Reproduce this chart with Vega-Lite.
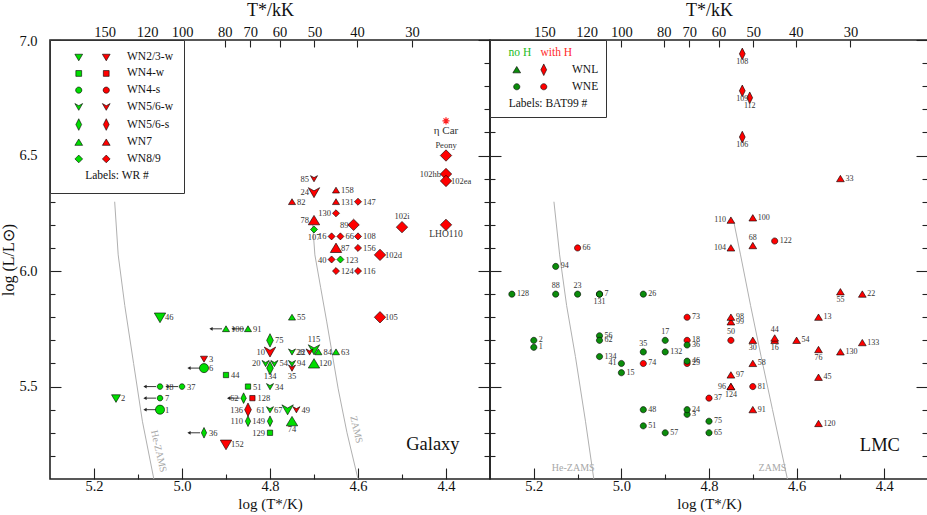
{
"$schema": "https://vega.github.io/schema/vega-lite/v6.json",
"padding": {"left": 0, "top": 0, "right": 0, "bottom": 0},
"background": "white",
"config": {
  "view": {"stroke": "#222", "strokeWidth": 1.6},
  "axis": {"domain": false, "grid": false, "tickColor": "#222", "tickWidth": 1.1, "labelFont": "Liberation Serif", "labelFontSize": 14.5, "labelColor": "#111", "titleFont": "Liberation Serif", "titleFontWeight": "normal", "titleColor": "#111", "titleFontSize": 15},
  "legend": {"labelFont": "Liberation Serif", "titleFont": "Liberation Serif"},
  "text": {"font": "Liberation Serif"}
},
"datasets": {
  "gal": [
    {"id":"η Car","logT":4.40,"logL":6.65,"H":"H","sp":"eta"},
    {"id":"Peony","logT":4.40,"logL":6.50,"H":"H","sp":"WN8/9"},
    {"id":"102hb","logT":4.40,"logL":6.42,"H":"H","sp":"WN8/9"},
    {"id":"102ea","logT":4.40,"logL":6.39,"H":"H","sp":"WN8/9"},
    {"id":"LHO110","logT":4.40,"logL":6.20,"H":"H","sp":"WN8/9"},
    {"id":"102i","logT":4.50,"logL":6.19,"H":"H","sp":"WN8/9"},
    {"id":"102d","logT":4.55,"logL":6.07,"H":"H","sp":"WN8/9"},
    {"id":"105","logT":4.55,"logL":5.80,"H":"H","sp":"WN8/9"},
    {"id":"89","logT":4.61,"logL":6.20,"H":"H","sp":"WN8/9"},
    {"id":"85","logT":4.70,"logL":6.40,"H":"H","sp":"WN5/6-w"},
    {"id":"24","logT":4.70,"logL":6.34,"H":"H","sp":"WN5/6-w"},
    {"id":"158","logT":4.65,"logL":6.35,"H":"H","sp":"WN7"},
    {"id":"82","logT":4.75,"logL":6.30,"H":"H","sp":"WN7"},
    {"id":"131","logT":4.65,"logL":6.30,"H":"H","sp":"WN7"},
    {"id":"147","logT":4.60,"logL":6.30,"H":"H","sp":"WN8/9"},
    {"id":"130","logT":4.65,"logL":6.25,"H":"H","sp":"WN8/9"},
    {"id":"78","logT":4.70,"logL":6.22,"H":"H","sp":"WN7"},
    {"id":"107","logT":4.70,"logL":6.18,"H":"noH","sp":"WN8/9"},
    {"id":"16","logT":4.66,"logL":6.15,"H":"H","sp":"WN8/9"},
    {"id":"66","logT":4.64,"logL":6.15,"H":"H","sp":"WN8/9"},
    {"id":"108","logT":4.60,"logL":6.15,"H":"H","sp":"WN8/9"},
    {"id":"87","logT":4.65,"logL":6.10,"H":"H","sp":"WN7"},
    {"id":"156","logT":4.60,"logL":6.10,"H":"H","sp":"WN8/9"},
    {"id":"40","logT":4.66,"logL":6.05,"H":"H","sp":"WN8/9"},
    {"id":"123","logT":4.64,"logL":6.05,"H":"noH","sp":"WN8/9"},
    {"id":"124","logT":4.65,"logL":6.00,"H":"H","sp":"WN8/9"},
    {"id":"116","logT":4.60,"logL":6.00,"H":"H","sp":"WN8/9"},
    {"id":"46","logT":5.05,"logL":5.80,"H":"noH","sp":"WN2/3-w"},
    {"id":"2","logT":5.15,"logL":5.45,"H":"noH","sp":"WN2/3-w"},
    {"id":"100","logT":4.90,"logL":5.75,"H":"noH","sp":"WN7"},
    {"id":"91","logT":4.85,"logL":5.75,"H":"noH","sp":"WN7"},
    {"id":"55","logT":4.75,"logL":5.80,"H":"noH","sp":"WN7"},
    {"id":"75","logT":4.80,"logL":5.70,"H":"noH","sp":"WN5/6-s"},
    {"id":"115","logT":4.70,"logL":5.66,"H":"noH","sp":"WN5/6-w"},
    {"id":"10","logT":4.80,"logL":5.65,"H":"H","sp":"WN5/6-w"},
    {"id":"22","logT":4.75,"logL":5.65,"H":"noH","sp":"WN5/6-w"},
    {"id":"28","logT":4.71,"logL":5.65,"H":"H","sp":"WN5/6-w"},
    {"id":"84","logT":4.69,"logL":5.65,"H":"noH","sp":"WN7"},
    {"id":"63","logT":4.65,"logL":5.65,"H":"noH","sp":"WN7"},
    {"id":"120","logT":4.70,"logL":5.60,"H":"noH","sp":"WN7"},
    {"id":"20","logT":4.81,"logL":5.60,"H":"noH","sp":"WN5/6-w"},
    {"id":"54","logT":4.79,"logL":5.60,"H":"noH","sp":"WN5/6-w"},
    {"id":"134","logT":4.80,"logL":5.58,"H":"noH","sp":"WN5/6-s"},
    {"id":"94","logT":4.75,"logL":5.60,"H":"noH","sp":"WN5/6-w"},
    {"id":"35","logT":4.75,"logL":5.58,"H":"H","sp":"WN5/6-w"},
    {"id":"3","logT":4.95,"logL":5.62,"H":"H","sp":"WN2/3-w"},
    {"id":"6","logT":4.95,"logL":5.58,"H":"noH","sp":"WN4-s"},
    {"id":"44","logT":4.90,"logL":5.55,"H":"noH","sp":"WN4-w"},
    {"id":"18","logT":5.05,"logL":5.50,"H":"noH","sp":"WN4-s"},
    {"id":"37","logT":5.00,"logL":5.50,"H":"noH","sp":"WN4-s"},
    {"id":"51","logT":4.85,"logL":5.50,"H":"noH","sp":"WN4-w"},
    {"id":"34","logT":4.80,"logL":5.50,"H":"noH","sp":"WN5/6-w"},
    {"id":"7","logT":5.05,"logL":5.45,"H":"noH","sp":"WN4-s"},
    {"id":"62","logT":4.86,"logL":5.45,"H":"noH","sp":"WN5/6-s"},
    {"id":"128","logT":4.84,"logL":5.45,"H":"H","sp":"WN4-w"},
    {"id":"1","logT":5.05,"logL":5.40,"H":"noH","sp":"WN4-s"},
    {"id":"136","logT":4.85,"logL":5.40,"H":"H","sp":"WN5/6-s"},
    {"id":"61","logT":4.80,"logL":5.40,"H":"noH","sp":"WN5/6-w"},
    {"id":"67","logT":4.76,"logL":5.40,"H":"noH","sp":"WN5/6-w"},
    {"id":"49","logT":4.74,"logL":5.40,"H":"H","sp":"WN5/6-w"},
    {"id":"110","logT":4.85,"logL":5.35,"H":"noH","sp":"WN5/6-s"},
    {"id":"149","logT":4.80,"logL":5.35,"H":"noH","sp":"WN5/6-s"},
    {"id":"74","logT":4.75,"logL":5.35,"H":"noH","sp":"WN7"},
    {"id":"36","logT":4.95,"logL":5.30,"H":"noH","sp":"WN5/6-s"},
    {"id":"129","logT":4.80,"logL":5.30,"H":"noH","sp":"WN4-w"},
    {"id":"152","logT":4.90,"logL":5.25,"H":"H","sp":"WN2/3-w"}
  ],
  "lmc": [
    {"id":"108","logT":4.724,"logL":6.94,"H":"H","sp":"WNL"},
    {"id":"109","logT":4.724,"logL":6.78,"H":"H","sp":"WNL"},
    {"id":"112","logT":4.707,"logL":6.75,"H":"H","sp":"WNL"},
    {"id":"106","logT":4.724,"logL":6.58,"H":"H","sp":"WNL"},
    {"id":"33","logT":4.50,"logL":6.40,"H":"H","sp":"tri"},
    {"id":"110","logT":4.75,"logL":6.22,"H":"H","sp":"tri"},
    {"id":"100","logT":4.70,"logL":6.23,"H":"H","sp":"tri"},
    {"id":"104","logT":4.75,"logL":6.10,"H":"H","sp":"tri"},
    {"id":"68","logT":4.70,"logL":6.11,"H":"H","sp":"tri"},
    {"id":"13","logT":4.55,"logL":5.80,"H":"H","sp":"tri"},
    {"id":"55","logT":4.50,"logL":5.91,"H":"H","sp":"tri"},
    {"id":"22","logT":4.45,"logL":5.90,"H":"H","sp":"tri"},
    {"id":"99","logT":4.75,"logL":5.78,"H":"H","sp":"tri"},
    {"id":"98","logT":4.75,"logL":5.80,"H":"H","sp":"tri"},
    {"id":"30","logT":4.70,"logL":5.70,"H":"H","sp":"tri"},
    {"id":"16","logT":4.65,"logL":5.70,"H":"H","sp":"tri"},
    {"id":"44","logT":4.65,"logL":5.71,"H":"H","sp":"tri"},
    {"id":"54","logT":4.60,"logL":5.70,"H":"H","sp":"tri"},
    {"id":"76","logT":4.55,"logL":5.66,"H":"H","sp":"tri"},
    {"id":"130","logT":4.50,"logL":5.65,"H":"H","sp":"tri"},
    {"id":"133","logT":4.45,"logL":5.69,"H":"H","sp":"tri"},
    {"id":"58","logT":4.70,"logL":5.60,"H":"H","sp":"tri"},
    {"id":"97","logT":4.75,"logL":5.55,"H":"H","sp":"tri"},
    {"id":"45","logT":4.55,"logL":5.54,"H":"H","sp":"tri"},
    {"id":"124","logT":4.75,"logL":5.50,"H":"H","sp":"tri"},
    {"id":"96","logT":4.75,"logL":5.50,"H":"H","sp":"tri"},
    {"id":"91","logT":4.70,"logL":5.40,"H":"H","sp":"tri"},
    {"id":"120","logT":4.55,"logL":5.34,"H":"H","sp":"tri"},
    {"id":"122","logT":4.65,"logL":6.13,"H":"H","sp":"WNE"},
    {"id":"66","logT":5.10,"logL":6.10,"H":"H","sp":"WNE"},
    {"id":"73","logT":4.85,"logL":5.80,"H":"H","sp":"WNE"},
    {"id":"18","logT":4.85,"logL":5.70,"H":"H","sp":"WNE"},
    {"id":"50","logT":4.75,"logL":5.70,"H":"H","sp":"WNE"},
    {"id":"74","logT":4.95,"logL":5.60,"H":"H","sp":"WNE"},
    {"id":"25","logT":4.85,"logL":5.60,"H":"H","sp":"WNE"},
    {"id":"81","logT":4.70,"logL":5.50,"H":"H","sp":"WNE"},
    {"id":"37","logT":4.80,"logL":5.45,"H":"H","sp":"WNE"},
    {"id":"94","logT":5.15,"logL":6.02,"H":"noH","sp":"WNE"},
    {"id":"128","logT":5.25,"logL":5.90,"H":"noH","sp":"WNE"},
    {"id":"88","logT":5.15,"logL":5.90,"H":"noH","sp":"WNE"},
    {"id":"23","logT":5.10,"logL":5.90,"H":"noH","sp":"WNE"},
    {"id":"131","logT":5.05,"logL":5.90,"H":"noH","sp":"WNE"},
    {"id":"7","logT":5.05,"logL":5.90,"H":"noH","sp":"WNE"},
    {"id":"26","logT":4.95,"logL":5.90,"H":"noH","sp":"WNE"},
    {"id":"2","logT":5.20,"logL":5.70,"H":"noH","sp":"WNE"},
    {"id":"1","logT":5.20,"logL":5.67,"H":"noH","sp":"WNE"},
    {"id":"56","logT":5.05,"logL":5.72,"H":"noH","sp":"WNE"},
    {"id":"62","logT":5.05,"logL":5.70,"H":"noH","sp":"WNE"},
    {"id":"17","logT":4.90,"logL":5.70,"H":"noH","sp":"WNE"},
    {"id":"36","logT":4.85,"logL":5.68,"H":"noH","sp":"WNE"},
    {"id":"134","logT":5.05,"logL":5.63,"H":"noH","sp":"WNE"},
    {"id":"35","logT":4.95,"logL":5.65,"H":"noH","sp":"WNE"},
    {"id":"132","logT":4.90,"logL":5.65,"H":"noH","sp":"WNE"},
    {"id":"41","logT":5.00,"logL":5.60,"H":"noH","sp":"WNE"},
    {"id":"15","logT":5.00,"logL":5.56,"H":"noH","sp":"WNE"},
    {"id":"46","logT":4.85,"logL":5.61,"H":"noH","sp":"WNE"},
    {"id":"48","logT":4.95,"logL":5.40,"H":"noH","sp":"WNE"},
    {"id":"3","logT":4.85,"logL":5.38,"H":"noH","sp":"WNE"},
    {"id":"24","logT":4.85,"logL":5.40,"H":"noH","sp":"WNE"},
    {"id":"75","logT":4.80,"logL":5.35,"H":"noH","sp":"WNE"},
    {"id":"51","logT":4.95,"logL":5.33,"H":"noH","sp":"WNE"},
    {"id":"57","logT":4.90,"logL":5.30,"H":"noH","sp":"WNE"},
    {"id":"65","logT":4.80,"logL":5.30,"H":"noH","sp":"WNE"}
  ],
  "galTracks": [
    {"track":"He-ZAMS","logT":5.153,"logL":6.30},
    {"track":"He-ZAMS","logT":5.145,"logL":6.07},
    {"track":"He-ZAMS","logT":5.13,"logL":5.85},
    {"track":"He-ZAMS","logT":5.11,"logL":5.60},
    {"track":"He-ZAMS","logT":5.09,"logL":5.35},
    {"track":"He-ZAMS","logT":5.064,"logL":5.10},
    {"track":"ZAMS","logT":4.703,"logL":6.20},
    {"track":"ZAMS","logT":4.698,"logL":6.07},
    {"track":"ZAMS","logT":4.685,"logL":5.93},
    {"track":"ZAMS","logT":4.671,"logL":5.78},
    {"track":"ZAMS","logT":4.645,"logL":5.49},
    {"track":"ZAMS","logT":4.625,"logL":5.30},
    {"track":"ZAMS","logT":4.60,"logL":5.10}
  ],
  "lmcTracks": [
    {"track":"He-ZAMS","logT":5.154,"logL":6.30},
    {"track":"He-ZAMS","logT":5.141,"logL":6.07},
    {"track":"He-ZAMS","logT":5.125,"logL":5.85},
    {"track":"He-ZAMS","logT":5.105,"logL":5.63},
    {"track":"He-ZAMS","logT":5.082,"logL":5.35},
    {"track":"He-ZAMS","logT":5.063,"logL":5.10},
    {"track":"ZAMS","logT":4.743,"logL":6.21},
    {"track":"ZAMS","logT":4.728,"logL":6.07},
    {"track":"ZAMS","logT":4.705,"logL":5.85},
    {"track":"ZAMS","logT":4.681,"logL":5.63},
    {"track":"ZAMS","logT":4.655,"logL":5.40},
    {"track":"ZAMS","logT":4.621,"logL":5.10}
  ],
  "galNotes": [
    {"t":"Galaxy","kind":"panel","logT":4.369,"logL":5.227},
    {"t":"He-ZAMS","kind":"track","logT":5.053,"logL":5.22},
    {"t":"ZAMS","kind":"track","logT":4.604,"logL":5.314}
  ],
  "lmcNotes": [
    {"t":"LMC","kind":"panel","logT":4.364,"logL":5.22},
    {"t":"He-ZAMS","kind":"track","logT":5.11,"logL":5.149},
    {"t":"ZAMS","kind":"track","logT":4.655,"logL":5.149}
  ]
},
"spacing": 0,
"bounds": "flush",
"resolve": {"scale": {"x": "independent", "y": "independent", "color": "independent", "shape": "independent"}, "legend": {"color": "independent", "shape": "independent"}},
"hconcat": [
{
  "width": 440, "height": 439,
  "data": {"name": "gal"},
  "resolve": {"axis": {"x": "independent", "y": "independent"}},
  "layer": [
    {"mark": {"type": "point", "opacity": 0},
     "encoding": {
       "x": {"field": "logT", "type": "quantitative", "scale": {"domain": [5.3, 4.3], "nice": false, "zero": false}, "axis": {"orient": "bottom", "values": [5.1, 4.9, 4.7, 4.5], "tickSize": -5, "labels": false, "title": null}},
       "y": {"field": "logL", "type": "quantitative", "scale": {"domain": [5.1, 7.0], "nice": false, "zero": false}, "axis": {"orient": "left", "values": [5.2,5.3,5.4,5.6,5.7,5.8,5.9,6.1,6.2,6.3,6.4,6.6,6.7,6.8,6.9], "tickSize": -5, "labels": false, "title": null}}}},
    {"mark": {"type": "point", "opacity": 0},
     "encoding": {
       "x": {"field": "logT", "type": "quantitative", "scale": {"domain": [5.3, 4.3], "nice": false, "zero": false}, "axis": {"orient": "bottom", "values": [5.2, 5.0, 4.8, 4.6, 4.4], "format": ".1f", "tickSize": -11, "labelPadding": 11, "title": "log (T*/K)", "titlePadding": 4}},
       "y": {"field": "logL", "type": "quantitative", "scale": {"domain": [5.1, 7.0], "nice": false, "zero": false}, "axis": {"orient": "left", "values": [5.5, 6.0, 6.5, 7.0], "format": ".1f", "tickSize": -11, "labelPadding": 24, "labelFlush": 1, "labelFlushOffset": 6, "title": "log (L/L⊙)", "titleFontSize": 16, "titlePadding": 2}}}},
    {"mark": {"type": "point", "opacity": 0},
     "encoding": {
       "x": {"field": "logT", "type": "quantitative", "scale": {"domain": [5.3, 4.3], "nice": false, "zero": false}, "axis": {"orient": "top", "values": [5.1761, 5.0792, 5.0, 4.9031, 4.8451, 4.7782, 4.699, 4.6021, 4.4771], "labelExpr": "format(pow(10, datum.value)/1000, '.0f')", "tickSize": -7, "labelPadding": 8, "title": "T*/kK", "titleFontSize": 18, "titlePadding": 5}},
       "y": {"field": "logL", "type": "quantitative", "scale": {"domain": [5.1, 7.0], "nice": false, "zero": false}, "axis": {"orient": "right", "values": [5.2,5.3,5.4,5.6,5.7,5.8,5.9,6.1,6.2,6.3,6.4,6.6,6.7,6.8,6.9], "tickSize": -6, "labels": false, "title": null}}}},
    {"mark": {"type": "point", "opacity": 0},
     "encoding": {
       "x": {"field": "logT", "type": "quantitative", "scale": {"domain": [5.3, 4.3], "nice": false, "zero": false}, "axis": null},
       "y": {"field": "logL", "type": "quantitative", "scale": {"domain": [5.1, 7.0], "nice": false, "zero": false}, "axis": {"orient": "right", "values": [5.5, 6.0, 6.5, 7.0], "tickSize": -12, "labels": false, "title": null}}}},
    {"data": {"name": "galTracks"},
     "mark": {"type": "line", "color": "#b0b0b0", "strokeWidth": 1},
     "encoding": {
       "x": {"field": "logT", "type": "quantitative", "scale": {"domain": [5.3, 4.3], "nice": false, "zero": false}, "axis": null},
       "y": {"field": "logL", "type": "quantitative", "scale": {"domain": [5.1, 7.0], "nice": false, "zero": false}, "axis": null},
       "detail": {"field": "track", "type": "nominal"},
       "order": {"field": "logL", "type": "quantitative"}}},
    {"data": {"name": "galNotes"},
     "transform": [{"filter": "datum.kind == 'track'"}],
     "mark": {"type": "text", "angle": 77, "align": "center", "baseline": "middle", "fontSize": 10, "color": "#a8a8a8"},
     "encoding": {
       "x": {"field": "logT", "type": "quantitative", "scale": {"domain": [5.3, 4.3], "nice": false, "zero": false}, "axis": null},
       "y": {"field": "logL", "type": "quantitative", "scale": {"domain": [5.1, 7.0], "nice": false, "zero": false}, "axis": null},
       "text": {"field": "t"}}},
    {"data": {"name": "galNotes"},
     "transform": [{"filter": "datum.kind == 'panel'"}],
     "mark": {"type": "text", "align": "right", "baseline": "alphabetic", "fontSize": 18.5, "color": "#111"},
     "encoding": {
       "x": {"field": "logT", "type": "quantitative", "scale": {"domain": [5.3, 4.3], "nice": false, "zero": false}, "axis": null},
       "y": {"field": "logL", "type": "quantitative", "scale": {"domain": [5.1, 7.0], "nice": false, "zero": false}, "axis": null},
       "text": {"field": "t"}}},
    {"transform": [{"filter": "indexof(['100','91','6','18','37','7','1','62','36'], datum.id) >= 0"}],
     "mark": {"type": "rule", "color": "#222", "strokeWidth": 0.9, "xOffset": -4, "x2Offset": -15},
     "encoding": {
       "x": {"field": "logT", "type": "quantitative", "scale": {"domain": [5.3, 4.3], "nice": false, "zero": false}, "axis": null},
       "x2": {"field": "logT"},
       "y": {"field": "logL", "type": "quantitative", "scale": {"domain": [5.1, 7.0], "nice": false, "zero": false}, "axis": null}}},
    {"transform": [{"filter": "indexof(['100','91','6','18','37','7','1','62','36'], datum.id) >= 0"}],
     "mark": {"type": "point", "shape": "triangle-left", "filled": true, "color": "#222", "opacity": 1, "size": 14, "xOffset": -15},
     "encoding": {
       "x": {"field": "logT", "type": "quantitative", "scale": {"domain": [5.3, 4.3], "nice": false, "zero": false}, "axis": null},
       "y": {"field": "logL", "type": "quantitative", "scale": {"domain": [5.1, 7.0], "nice": false, "zero": false}, "axis": null}}},
    {"transform": [{"calculate": "datum.H + '|' + datum.sp", "as": "key"}],
     "mark": {"type": "point", "filled": true, "opacity": 1},
     "encoding": {
       "x": {"field": "logT", "type": "quantitative", "scale": {"domain": [5.3, 4.3], "nice": false, "zero": false}, "axis": null},
       "y": {"field": "logL", "type": "quantitative", "scale": {"domain": [5.1, 7.0], "nice": false, "zero": false}, "axis": null},
       "shape": {"field": "key", "type": "nominal",
         "scale": {"domain": ["noH|WN2/3-w","H|WN2/3-w","noH|WN4-w","H|WN4-w","noH|WN4-s","H|WN4-s","noH|WN5/6-w","H|WN5/6-w","noH|WN5/6-s","H|WN5/6-s","noH|WN7","H|WN7","noH|WN8/9","H|WN8/9","H|eta"],
                   "range": ["M-1,-0.75L1,-0.75L0,0.95Z","M-1,-0.75L1,-0.75L0,0.95Z","M-0.75,-0.75L0.75,-0.75L0.75,0.75L-0.75,0.75Z","M-0.75,-0.75L0.75,-0.75L0.75,0.75L-0.75,0.75Z","M-0.8,0A0.8,0.8,0,1,1,0.8,0A0.8,0.8,0,1,1,-0.8,0Z","M-0.8,0A0.8,0.8,0,1,1,0.8,0A0.8,0.8,0,1,1,-0.8,0Z","M-1,-0.85L0,-0.3L1,-0.85L0,0.9Z","M-1,-0.85L0,-0.3L1,-0.85L0,0.9Z","M0,-1.5L0.75,0L0,1.5L-0.75,0Z","M0,-1.5L0.75,0L0,1.5L-0.75,0Z","M0,-0.85L1,0.8L-1,0.8Z","M0,-0.85L1,0.8L-1,0.8Z","M0,-1L1,0L0,1L-1,0Z","M0,-1L1,0L0,1L-1,0Z","M-1,0L1,0M0,-1L0,1M-0.7,-0.7L0.7,0.7M-0.7,0.7L0.7,-0.7"]},
         "legend": {"orient": "top-left", "offset": 0, "columns": 2, "title": "Labels: WR #", "titleOrient": "bottom", "titleAnchor": "middle", "titleFontSize": 11.5, "titleFontWeight": "normal", "titleColor": "#111", "titlePadding": 6, "labelFontSize": 11.5, "labelColor": "#111", "labelExpr": "indexof(datum.value,'H|')==0 ? slice(datum.value,2) : ''", "labelOffset": {"expr": "indexof(datum.value,'H|')==0 ? 15 : 0"}, "values": ["noH|WN2/3-w","noH|WN4-w","noH|WN4-s","noH|WN5/6-w","noH|WN5/6-s","noH|WN7","noH|WN8/9","H|WN2/3-w","H|WN4-w","H|WN4-s","H|WN5/6-w","H|WN5/6-s","H|WN7","H|WN8/9"], "symbolSize": 60, "symbolStrokeColor": "#000", "symbolStrokeWidth": 0.6, "strokeColor": "#333", "fillColor": "#fff", "padding": 11, "rowPadding": 3.7, "columnPadding": 3.5, "symbolOffset": 12}},
       "color": {"field": "key", "type": "nominal",
         "scale": {"domain": ["noH|WN2/3-w","H|WN2/3-w","noH|WN4-w","H|WN4-w","noH|WN4-s","H|WN4-s","noH|WN5/6-w","H|WN5/6-w","noH|WN5/6-s","H|WN5/6-s","noH|WN7","H|WN7","noH|WN8/9","H|WN8/9","H|eta"],
                   "range": ["#00dd00","#ff0000","#00dd00","#ff0000","#00dd00","#ff0000","#00dd00","#ff0000","#00dd00","#ff0000","#00dd00","#ff0000","#00dd00","#ff0000","#ff0000"]},
         "legend": {"orient": "top-left", "offset": 0, "columns": 2, "title": "Labels: WR #", "titleOrient": "bottom", "titleAnchor": "middle", "titleFontSize": 11.5, "titleFontWeight": "normal", "titleColor": "#111", "titlePadding": 6, "labelFontSize": 11.5, "labelColor": "#111", "labelExpr": "indexof(datum.value,'H|')==0 ? slice(datum.value,2) : ''", "labelOffset": {"expr": "indexof(datum.value,'H|')==0 ? 15 : 0"}, "values": ["noH|WN2/3-w","noH|WN4-w","noH|WN4-s","noH|WN5/6-w","noH|WN5/6-s","noH|WN7","noH|WN8/9","H|WN2/3-w","H|WN4-w","H|WN4-s","H|WN5/6-w","H|WN5/6-s","H|WN7","H|WN8/9"], "symbolSize": 60, "symbolStrokeColor": "#000", "symbolStrokeWidth": 0.6, "strokeColor": "#333", "fillColor": "#fff", "padding": 11, "rowPadding": 3.7, "columnPadding": 3.5, "symbolOffset": 12}},
       "size": {"condition": [
          {"test": "indexof(['46','10','115','120','6','1','67','74','152','24','78','87','89','102i','102d','105','Peony','102hb','102ea','LHO110'], datum.id) >= 0", "value": 130},
          {"test": "indexof(['75','134','136','2'], datum.id) >= 0", "value": 80}], "value": 50},
       "stroke": {"condition": {"test": "datum.sp == 'eta'", "value": "#ff2020"}, "value": "#000"},
       "strokeWidth": {"condition": {"test": "datum.sp == 'eta'", "value": 1.2}, "value": 0.6}}},
    {"transform": [{"filter": "indexof(['10','20','136','61','67','110','149','129','85','24','78','130','89','40','16','102hb','28','62','115','Peony','102i','134','35','74','107','LHO110','η Car'], datum.id) < 0"}],
     "mark": {"type": "text", "align": "left", "baseline": "middle", "dx": 5, "fontSize": 8.5, "color": "#333"},
     "encoding": {
       "x": {"field": "logT", "type": "quantitative", "scale": {"domain": [5.3, 4.3], "nice": false, "zero": false}, "axis": null},
       "y": {"field": "logL", "type": "quantitative", "scale": {"domain": [5.1, 7.0], "nice": false, "zero": false}, "axis": null},
       "text": {"field": "id"}}},
    {"transform": [{"filter": "indexof(['10','20','136','61','67','110','149','129','85','24','78','130','89','40','16','102hb','28','62'], datum.id) >= 0"}],
     "mark": {"type": "text", "align": "right", "baseline": "middle", "dx": -5, "fontSize": 8.5, "color": "#333"},
     "encoding": {
       "x": {"field": "logT", "type": "quantitative", "scale": {"domain": [5.3, 4.3], "nice": false, "zero": false}, "axis": null},
       "y": {"field": "logL", "type": "quantitative", "scale": {"domain": [5.1, 7.0], "nice": false, "zero": false}, "axis": null},
       "text": {"field": "id"}}},
    {"transform": [{"filter": "indexof(['115','Peony','102i'], datum.id) >= 0"}],
     "mark": {"type": "text", "align": "center", "baseline": "bottom", "dy": -6, "fontSize": 8.5, "color": "#333"},
     "encoding": {
       "x": {"field": "logT", "type": "quantitative", "scale": {"domain": [5.3, 4.3], "nice": false, "zero": false}, "axis": null},
       "y": {"field": "logL", "type": "quantitative", "scale": {"domain": [5.1, 7.0], "nice": false, "zero": false}, "axis": null},
       "text": {"field": "id"}}},
    {"transform": [{"filter": "indexof(['134','35','74','107','LHO110','η Car'], datum.id) >= 0"}],
     "mark": {"type": "text", "align": "center", "baseline": "top", "dy": 4, "color": "#333"},
     "encoding": {
       "x": {"field": "logT", "type": "quantitative", "scale": {"domain": [5.3, 4.3], "nice": false, "zero": false}, "axis": null},
       "y": {"field": "logL", "type": "quantitative", "scale": {"domain": [5.1, 7.0], "nice": false, "zero": false}, "axis": null},
       "size": {"condition": [{"test": "datum.id == 'η Car'", "value": 11}, {"test": "datum.id == 'LHO110'", "value": 9.5}], "value": 8.5},
       "text": {"field": "id"}}}
  ]
},
{
  "width": 438, "height": 439,
  "data": {"name": "lmc"},
  "resolve": {"axis": {"x": "independent", "y": "independent"}},
  "layer": [
    {"mark": {"type": "point", "opacity": 0},
     "encoding": {
       "x": {"field": "logT", "type": "quantitative", "scale": {"domain": [5.3, 4.3], "nice": false, "zero": false}, "axis": {"orient": "bottom", "values": [5.1, 4.9, 4.7, 4.5], "tickSize": -5, "labels": false, "title": null}},
       "y": {"field": "logL", "type": "quantitative", "scale": {"domain": [5.1, 7.0], "nice": false, "zero": false}, "axis": {"orient": "left", "values": [5.2,5.3,5.4,5.6,5.7,5.8,5.9,6.1,6.2,6.3,6.4,6.6,6.7,6.8,6.9], "tickSize": -5, "labels": false, "title": null}}}},
    {"mark": {"type": "point", "opacity": 0},
     "encoding": {
       "x": {"field": "logT", "type": "quantitative", "scale": {"domain": [5.3, 4.3], "nice": false, "zero": false}, "axis": {"orient": "bottom", "values": [5.2, 5.0, 4.8, 4.6, 4.4], "format": ".1f", "tickSize": -11, "labelPadding": 11, "title": "log (T*/K)", "titlePadding": 4}},
       "y": {"field": "logL", "type": "quantitative", "scale": {"domain": [5.1, 7.0], "nice": false, "zero": false}, "axis": {"orient": "left", "values": [5.5, 6.0, 6.5, 7.0], "tickSize": -11, "labels": false, "title": null}}}},
    {"mark": {"type": "point", "opacity": 0},
     "encoding": {
       "x": {"field": "logT", "type": "quantitative", "scale": {"domain": [5.3, 4.3], "nice": false, "zero": false}, "axis": {"orient": "top", "values": [5.1761, 5.0792, 5.0, 4.9031, 4.8451, 4.7782, 4.699, 4.6021, 4.4771], "labelExpr": "format(pow(10, datum.value)/1000, '.0f')", "tickSize": -7, "labelPadding": 8, "title": "T*/kK", "titleFontSize": 18, "titlePadding": 5}},
       "y": {"field": "logL", "type": "quantitative", "scale": {"domain": [5.1, 7.0], "nice": false, "zero": false}, "axis": {"orient": "right", "values": [5.2,5.3,5.4,5.6,5.7,5.8,5.9,6.1,6.2,6.3,6.4,6.6,6.7,6.8,6.9], "tickSize": -6, "labels": false, "title": null}}}},
    {"mark": {"type": "point", "opacity": 0},
     "encoding": {
       "x": {"field": "logT", "type": "quantitative", "scale": {"domain": [5.3, 4.3], "nice": false, "zero": false}, "axis": null},
       "y": {"field": "logL", "type": "quantitative", "scale": {"domain": [5.1, 7.0], "nice": false, "zero": false}, "axis": {"orient": "right", "values": [5.5, 6.0, 6.5, 7.0], "tickSize": -12, "labels": false, "title": null}}}},
    {"data": {"name": "lmcTracks"},
     "mark": {"type": "line", "color": "#b0b0b0", "strokeWidth": 1},
     "encoding": {
       "x": {"field": "logT", "type": "quantitative", "scale": {"domain": [5.3, 4.3], "nice": false, "zero": false}, "axis": null},
       "y": {"field": "logL", "type": "quantitative", "scale": {"domain": [5.1, 7.0], "nice": false, "zero": false}, "axis": null},
       "detail": {"field": "track", "type": "nominal"},
       "order": {"field": "logL", "type": "quantitative"}}},
    {"data": {"name": "lmcNotes"},
     "transform": [{"filter": "datum.kind == 'track'"}],
     "mark": {"type": "text", "align": "center", "baseline": "middle", "fontSize": 10, "color": "#a8a8a8"},
     "encoding": {
       "x": {"field": "logT", "type": "quantitative", "scale": {"domain": [5.3, 4.3], "nice": false, "zero": false}, "axis": null},
       "y": {"field": "logL", "type": "quantitative", "scale": {"domain": [5.1, 7.0], "nice": false, "zero": false}, "axis": null},
       "text": {"field": "t"}}},
    {"data": {"name": "lmcNotes"},
     "transform": [{"filter": "datum.kind == 'panel'"}],
     "mark": {"type": "text", "align": "right", "baseline": "alphabetic", "fontSize": 18.5, "color": "#111"},
     "encoding": {
       "x": {"field": "logT", "type": "quantitative", "scale": {"domain": [5.3, 4.3], "nice": false, "zero": false}, "axis": null},
       "y": {"field": "logL", "type": "quantitative", "scale": {"domain": [5.1, 7.0], "nice": false, "zero": false}, "axis": null},
       "text": {"field": "t"}}},
    {"transform": [{"calculate": "datum.H + '|' + datum.sp", "as": "key"}],
     "mark": {"type": "point", "filled": true, "opacity": 1, "stroke": "#000", "strokeWidth": 0.6, "size": 60},
     "encoding": {
       "x": {"field": "logT", "type": "quantitative", "scale": {"domain": [5.3, 4.3], "nice": false, "zero": false}, "axis": null},
       "y": {"field": "logL", "type": "quantitative", "scale": {"domain": [5.1, 7.0], "nice": false, "zero": false}, "axis": null},
       "shape": {"field": "key", "type": "nominal",
         "scale": {"domain": ["noH|hdr","H|hdr","noH|WNL","H|WNL","noH|WNE","H|WNE","H|tri"],
                   "range": ["M0,0","M0,0","M0,-0.85L1,0.8L-1,0.8Z","M0,-1.5L0.75,0L0,1.5L-0.75,0Z","M-0.8,0A0.8,0.8,0,1,1,0.8,0A0.8,0.8,0,1,1,-0.8,0Z","M-0.8,0A0.8,0.8,0,1,1,0.8,0A0.8,0.8,0,1,1,-0.8,0Z","M0,-0.85L1,0.8L-1,0.8Z"]},
         "legend": {"orient": "top-left", "offset": 0, "columns": 2, "title": "Labels: BAT99 #", "titleOrient": "bottom", "titleAnchor": "middle", "titleFontSize": 11.5, "titleFontWeight": "normal", "titleColor": "#111", "titlePadding": 6, "labelFontSize": 11.5, "labelExpr": "datum.value=='noH|hdr' ? 'no H' : datum.value=='H|hdr' ? 'with H' : indexof(datum.value,'H|')==0 ? slice(datum.value,2) : ''", "labelColor": {"expr": "datum.value=='noH|hdr' ? '#22bb22' : datum.value=='H|hdr' ? '#ff2a2a' : '#111'"}, "labelOffset": {"expr": "datum.value=='noH|hdr' ? -14 : datum.value=='H|hdr' ? -9 : indexof(datum.value,'H|')==0 ? 22.5 : 0"}, "symbolOffset": {"expr": "indexof(datum.value,'H|')==0 ? 6 : 14"}, "values": ["noH|hdr","noH|WNL","noH|WNE","H|hdr","H|WNL","H|WNE"], "symbolSize": 60, "symbolStrokeColor": "#000", "symbolStrokeWidth": 0.6, "strokeColor": "#333", "fillColor": "#fff", "padding": 7, "rowPadding": 3, "columnPadding": 0}},
       "color": {"field": "key", "type": "nominal",
         "scale": {"domain": ["noH|hdr","H|hdr","noH|WNL","H|WNL","noH|WNE","H|WNE","H|tri"],
                   "range": ["#0b8c0b","#ff0000","#0b8c0b","#ff0000","#0b8c0b","#ff0000","#ff0000"]},
         "legend": {"orient": "top-left", "offset": 0, "columns": 2, "title": "Labels: BAT99 #", "titleOrient": "bottom", "titleAnchor": "middle", "titleFontSize": 11.5, "titleFontWeight": "normal", "titleColor": "#111", "titlePadding": 6, "labelFontSize": 11.5, "labelExpr": "datum.value=='noH|hdr' ? 'no H' : datum.value=='H|hdr' ? 'with H' : indexof(datum.value,'H|')==0 ? slice(datum.value,2) : ''", "labelColor": {"expr": "datum.value=='noH|hdr' ? '#22bb22' : datum.value=='H|hdr' ? '#ff2a2a' : '#111'"}, "labelOffset": {"expr": "datum.value=='noH|hdr' ? -14 : datum.value=='H|hdr' ? -9 : indexof(datum.value,'H|')==0 ? 22.5 : 0"}, "symbolOffset": {"expr": "indexof(datum.value,'H|')==0 ? 6 : 14"}, "values": ["noH|hdr","noH|WNL","noH|WNE","H|hdr","H|WNL","H|WNE"], "symbolSize": 60, "symbolStrokeColor": "#000", "symbolStrokeWidth": 0.6, "strokeColor": "#333", "fillColor": "#fff", "padding": 7, "rowPadding": 3, "columnPadding": 0}}}},
    {"transform": [{"filter": "indexof(['41','96','110','104','88','23','17','35','50','44','68','131','55','30','16','76','124','108','109','112','106'], datum.id) < 0"}],
     "mark": {"type": "text", "align": "left", "baseline": "middle", "dx": 5, "fontSize": 8, "color": "#333"},
     "encoding": {
       "x": {"field": "logT", "type": "quantitative", "scale": {"domain": [5.3, 4.3], "nice": false, "zero": false}, "axis": null},
       "y": {"field": "logL", "type": "quantitative", "scale": {"domain": [5.1, 7.0], "nice": false, "zero": false}, "axis": null},
       "text": {"field": "id"}}},
    {"transform": [{"filter": "indexof(['41','96','110','104'], datum.id) >= 0"}],
     "mark": {"type": "text", "align": "right", "baseline": "middle", "dx": -5, "fontSize": 8, "color": "#333"},
     "encoding": {
       "x": {"field": "logT", "type": "quantitative", "scale": {"domain": [5.3, 4.3], "nice": false, "zero": false}, "axis": null},
       "y": {"field": "logL", "type": "quantitative", "scale": {"domain": [5.1, 7.0], "nice": false, "zero": false}, "axis": null},
       "text": {"field": "id"}}},
    {"transform": [{"filter": "indexof(['88','23','17','35','50','44','68'], datum.id) >= 0"}],
     "mark": {"type": "text", "align": "center", "baseline": "bottom", "dy": -4, "fontSize": 8, "color": "#333"},
     "encoding": {
       "x": {"field": "logT", "type": "quantitative", "scale": {"domain": [5.3, 4.3], "nice": false, "zero": false}, "axis": null},
       "y": {"field": "logL", "type": "quantitative", "scale": {"domain": [5.1, 7.0], "nice": false, "zero": false}, "axis": null},
       "text": {"field": "id"}}},
    {"transform": [{"filter": "indexof(['131','55','30','16','76','124','108','109','112','106'], datum.id) >= 0"}],
     "mark": {"type": "text", "align": "center", "baseline": "top", "dy": 4, "fontSize": 8, "color": "#333"},
     "encoding": {
       "x": {"field": "logT", "type": "quantitative", "scale": {"domain": [5.3, 4.3], "nice": false, "zero": false}, "axis": null},
       "y": {"field": "logL", "type": "quantitative", "scale": {"domain": [5.1, 7.0], "nice": false, "zero": false}, "axis": null},
       "text": {"field": "id"}}}
  ]
}
]
}
